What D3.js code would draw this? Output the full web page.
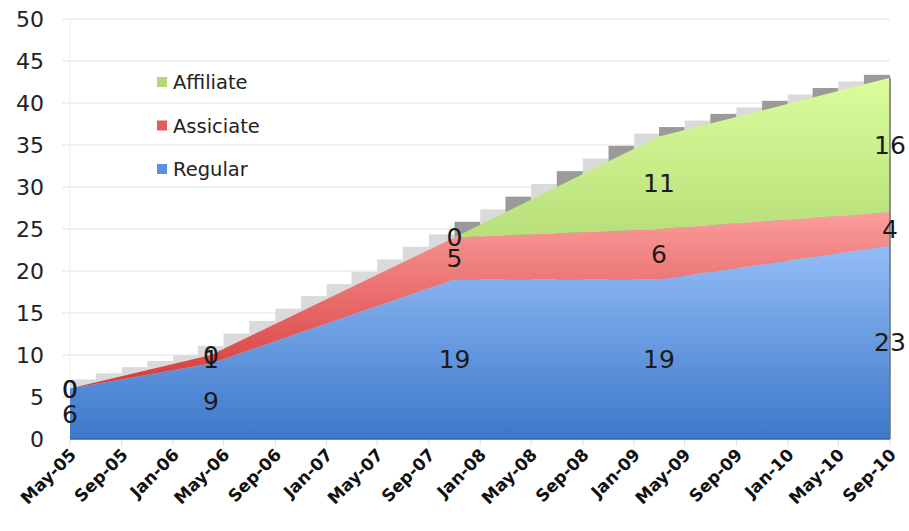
<!DOCTYPE html>
<html>
<head>
<meta charset="utf-8">
<script src="https://cdn.jsdelivr.net/npm/d3@7"></script>
<style>
  html, body { margin: 0; padding: 0; background: #fff; }
  svg { display: block; font-family: "DejaVu Sans", Verdana, sans-serif; }
</style>
</head>
<body>
<svg id="chart" width="909" height="531"></svg>
<script>
// Membership counts by category at each reporting date
const dates = ["2005-05-01", "2006-04-01", "2007-11-01", "2009-03-01", "2010-09-01"];
const regular = [6, 9, 19, 19, 23];
const associate = [0, 1, 5, 6, 4];
const affiliate = [0, 0, 0, 11, 16];
const seriesNames = ["Regular", "Assiciate", "Affiliate"];
const yTicks = [0, 5, 10, 15, 20, 25, 30, 35, 40, 45, 50];

const parse = d3.timeParse("%Y-%m-%d");
const rows = dates.map((d, i) => ({
  date: parse(d),
  Regular: regular[i],
  Assiciate: associate[i],
  Affiliate: affiliate[i]
}));

const svg = d3.select("#chart");
const plotLeft = 70, plotRight = 890, plotTop = 19, plotBottom = 439;

const x = d3.scaleTime()
  .domain([parse("2005-05-01"), parse("2010-09-01")])
  .range([plotLeft, plotRight]);
const y = d3.scaleLinear().domain([0, 50]).range([plotBottom, plotTop]);

const stack = d3.stack().keys(seriesNames);
const layers = stack(rows);

// gradient fills
const defs = svg.append("defs");
function vGrad(id, y1, y2, c1, c2) {
  const g = defs.append("linearGradient")
    .attr("id", id).attr("gradientUnits", "userSpaceOnUse")
    .attr("x1", 0).attr("x2", 0).attr("y1", y1).attr("y2", y2);
  g.append("stop").attr("offset", "0%").attr("stop-color", c1);
  g.append("stop").attr("offset", "100%").attr("stop-color", c2);
}
const totals = rows.map(r => r.Regular + r.Assiciate + r.Affiliate);
vGrad("g-regular", y(d3.max(regular)), y(0), "#94bdf7", "#3c78c9");
vGrad("g-assoc", y(d3.max(layers[1], d => d[1])), y(d3.min(layers[1], d => d[0])), "#fb9d9c", "#d43a39");
vGrad("g-affil", y(d3.max(totals)), y(d3.min(layers[2].filter(d => d[1] > d[0]), d => d[0])), "#dbfd9c", "#b9e07a");
const fills = { Regular: "url(#g-regular)", Assiciate: "url(#g-assoc)", Affiliate: "url(#g-affil)" };
const legendColors = { Regular: "#5b90e0", Assiciate: "#e55c5c", Affiliate: "#b3da76" };

// horizontal gridlines
svg.append("g").selectAll("line").data(yTicks.filter(v => v > 0)).join("line")
  .attr("x1", plotLeft - 8).attr("x2", plotRight)
  .attr("y1", d => y(d)).attr("y2", d => y(d))
  .attr("stroke", "#e4e4e4").attr("stroke-width", 1);
svg.append("line").attr("x1", plotLeft).attr("x2", plotLeft).attr("y1", plotTop).attr("y2", plotBottom)
  .attr("stroke", "#efefef");

// y axis labels
svg.append("g").selectAll("text").data(yTicks).join("text")
  .attr("x", 44).attr("y", d => y(d)).attr("dy", "0.36em")
  .attr("text-anchor", "end").attr("font-size", 22).attr("fill", "#222")
  .text(d => d);

// stepped depth shading behind the stacked area
const totalAt = d3.scaleTime().domain(rows.map(r => r.date)).range(totals);
const steps = d3.timeMonth.every(2).range(parse("2005-05-01"), parse("2010-09-01"));
const stepG = svg.append("g");
steps.forEach((s, i) => {
  const e = d3.timeMonth.offset(s, 2);
  const x0 = x(s), x1 = Math.min(x(e), plotRight);
  const yt = y(totalAt(e)) - 3;
  const w = x1 - x0;
  const dark = i % 2 === 1 && s >= parse("2007-09-01");
  stepG.append("rect").attr("x", x0).attr("y", yt).attr("width", w).attr("height", plotBottom - yt)
    .attr("fill", dark ? "#9a9a9a" : "#dadada");
});

// stacked areas
const area = d3.area()
  .x(d => x(d.data.date))
  .y0(d => y(d[0]))
  .y1(d => y(d[1]));
svg.append("g").selectAll("path").data(layers).join("path")
  .attr("d", area)
  .attr("fill", d => fills[d.key]);

// right edge and baseline
svg.append("line").attr("x1", plotRight).attr("x2", plotRight)
  .attr("y1", y(totals[totals.length - 1])).attr("y2", plotBottom)
  .attr("stroke", "#6f6f6f").attr("stroke-width", 1.5);
svg.append("line").attr("x1", plotLeft).attr("x2", plotRight).attr("y1", plotBottom).attr("y2", plotBottom)
  .attr("stroke", "#3565a8").attr("stroke-width", 1.5);

// x axis
const xTicks = d3.timeMonth.every(4).range(parse("2005-05-01"), d3.timeDay.offset(parse("2010-09-01"), 1));
const fmt = d3.timeFormat("%b-%y");
svg.append("g").selectAll("line").data(xTicks).join("line")
  .attr("x1", d => x(d)).attr("x2", d => x(d))
  .attr("y1", plotBottom + 1).attr("y2", plotBottom + 7)
  .attr("stroke", "#e0e0e0");
svg.append("g").selectAll("text").data(xTicks).join("text")
  .attr("transform", d => `translate(${x(d) + 7},${plotBottom + 17}) rotate(-45)`)
  .attr("text-anchor", "end").attr("font-size", 17).attr("font-weight", "bold")
  .attr("fill", "#111")
  .text(d => fmt(d));

// data labels, centred in each band
const labelG = svg.append("g");
layers.forEach(layer => {
  layer.forEach(d => {
    labelG.append("text")
      .attr("x", x(d.data.date)).attr("y", y((d[0] + d[1]) / 2)).attr("dy", "0.36em")
      .attr("text-anchor", "middle").attr("font-size", 25).attr("fill", "#1a1a1a")
      .text(d.data[layer.key]);
  });
});

// legend
const legendOrder = ["Affiliate", "Assiciate", "Regular"];
const lg = svg.append("g").selectAll("g").data(legendOrder).join("g")
  .attr("transform", (d, i) => `translate(157,${82 + i * 43.5})`);
lg.append("rect").attr("x", 0).attr("y", -5).attr("width", 10).attr("height", 10)
  .attr("fill", d => legendColors[d]);
lg.append("text").attr("x", 16).attr("dy", "0.36em").attr("font-size", 19.5).attr("fill", "#222")
  .text(d => d);
</script>
</body>
</html>
